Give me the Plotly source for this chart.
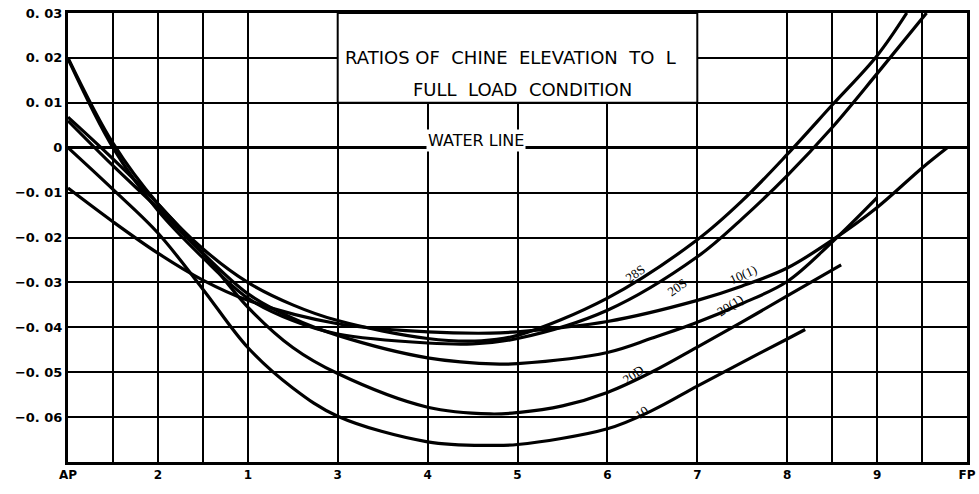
import plotly.graph_objects as go

# ---- data: stations (AP = 0 ... FP = 10) and ratio of chine elevation to L ----
st_28S = [0, 0.5, 1, 1.5, 2, 2.5, 3, 4, 4.6, 5, 6, 7, 7.5, 8, 8.5, 9, 9.33]
y_28S = [0.020, 0.001, -0.0125, -0.0225, -0.030, -0.035, -0.0385, -0.0425, -0.043, -0.0418,
         -0.0335, -0.0205, -0.0118, -0.0015, 0.0095, 0.0205, 0.030]

st_20S = [0, 0.5, 1, 1.5, 2, 2.5, 3, 4, 4.5, 5, 6, 7, 7.5, 8, 8.5, 9, 9.55]
y_20S = [0.0198, 0.0, -0.014, -0.0245, -0.0335, -0.0385, -0.0415, -0.0435, -0.0437, -0.0425,
         -0.0362, -0.0243, -0.0158, -0.0062, 0.0045, 0.0165, 0.030]

st_10_1 = [0, 0.5, 1, 1.5, 2, 3, 4, 4.7, 5, 6, 7, 7.5, 8, 8.5, 9, 9.5, 9.78]
y_10_1 = [-0.009, -0.0165, -0.0235, -0.0295, -0.034, -0.0392, -0.041, -0.0413, -0.041, -0.0387,
          -0.034, -0.0308, -0.0268, -0.0206, -0.0133, -0.0045, 0.0]

st_20_1 = [0, 0.5, 1, 1.5, 2, 2.5, 3, 4, 4.8, 5, 6, 6.5, 7, 7.5, 8, 8.5, 9]
y_20_1 = [0.006, -0.004, -0.0135, -0.0235, -0.0325, -0.038, -0.0418, -0.0468, -0.0482, -0.0481,
          -0.0456, -0.0424, -0.0389, -0.0347, -0.0298, -0.021, -0.0111]

st_20D = [0, 0.5, 1, 1.5, 2, 2.5, 3, 4, 4.7, 5, 5.5, 6, 6.5, 7, 7.5, 8, 8.6]
y_20D = [0.0068, -0.0025, -0.0125, -0.0235, -0.0355, -0.0445, -0.0503, -0.0578, -0.0593, -0.059,
         -0.0575, -0.0545, -0.0499, -0.0444, -0.0388, -0.033, -0.0261]

st_10 = [0, 0.5, 1, 1.5, 2, 2.5, 3, 4, 4.7, 5, 6, 6.5, 7, 7.5, 8, 8.2]
y_10 = [0.0, -0.0093, -0.019, -0.0315, -0.0445, -0.0535, -0.0598, -0.0655, -0.0663, -0.0661,
        -0.0626, -0.0585, -0.0531, -0.0478, -0.0426, -0.0405]

series = [
    ("28S", st_28S, y_28S),
    ("20S", st_20S, y_20S),
    ("10(1)", st_10_1, y_10_1),
    ("20(1)", st_20_1, y_20_1),
    ("20D", st_20D, y_20D),
    ("10", st_10, y_10),
]

# curve labels: name, station, value, angle
label_names = ["28S", "20S", "10(1)", "20(1)", "20D", "10"]
label_x = [6.31, 6.77, 7.51, 7.36, 6.29, 6.38]
label_y = [-0.0280, -0.0311, -0.0282, -0.0351, -0.0505, -0.0589]
label_angle = [-35, -35, -25, -33, -35, -35]

# axis ticks
x_tickvals = [0, 1, 2, 3, 4, 5, 6, 7, 8, 9, 10]
x_ticktext = ["AP", "2", "1", "3", "4", "5", "6", "7", "8", "9", "FP"]
x_half_grid = [0.5, 1.5, 8.5, 9.5]
y_tickvals = [0.03, 0.02, 0.01, 0.0, -0.01, -0.02, -0.03, -0.04, -0.05, -0.06, -0.07]
y_ticktext = ["0. 03", "0. 02", "0. 01", "0", "\u22120. 01", "\u22120. 02", "\u22120. 03",
              "\u22120. 04", "\u22120. 05", "\u22120. 06", ""]

fig = go.Figure()
for name, xs, ys in series:
    fig.add_trace(go.Scatter(
        x=xs, y=ys, mode="lines", name=name,
        line=dict(color="black", width=3.2, shape="spline", smoothing=1.0),
        hoverinfo="x+y+name", showlegend=False,
    ))

# white title box over the grid (stations 3..7, 0.01..0.03)
fig.add_shape(type="rect", xref="x", yref="y", x0=3, x1=7, y0=0.01, y1=0.03,
              fillcolor="white", line=dict(color="black", width=2), layer="between")

title_font = dict(family="DejaVu Sans", size=18, color="black")
fig.add_annotation(
    x=3.06, y=0.0200, xref="x", yref="y", xanchor="left", yanchor="middle", showarrow=False,
    text="RATIOS OF  CHINE  ELEVATION  TO  L",
    font=title_font,
)
fig.add_annotation(
    x=5.05, y=0.0130, xref="x", yref="y", xanchor="center", yanchor="middle", showarrow=False,
    text="FULL  LOAD  CONDITION",
    font=title_font,
)
fig.add_annotation(
    x=4.54, y=0.0016, xref="x", yref="y", xanchor="center", yanchor="middle", showarrow=False,
    text="WATER LINE", font=dict(family="DejaVu Sans", size=16, color="black"),
    bgcolor="white", borderpad=1,
)

for n, lx, ly, ang in zip(label_names, label_x, label_y, label_angle):
    fig.add_annotation(
        x=lx, y=ly, xref="x", yref="y", showarrow=False, text=n, textangle=ang,
        font=dict(family="Liberation Serif", size=13, color="black"),
    )

fig.update_xaxes(
    range=[0, 10], tickmode="array", tickvals=x_tickvals, ticktext=x_ticktext,
    showgrid=True, gridcolor="black", gridwidth=2, zeroline=False,
    minor=dict(tickmode="array", tickvals=x_half_grid, showgrid=True, gridcolor="black", gridwidth=2),
    showline=True, linecolor="black", linewidth=3, mirror=True, ticks="",
    tickfont=dict(family="DejaVu Sans", size=12, color="black", weight="bold"),
    fixedrange=True, automargin=False,
)
fig.update_yaxes(
    range=[-0.07, 0.03], tickmode="array", tickvals=y_tickvals, ticktext=y_ticktext,
    showgrid=True, gridcolor="black", gridwidth=2,
    zeroline=True, zerolinecolor="black", zerolinewidth=2.5,
    showline=True, linecolor="black", linewidth=3, mirror=True, ticks="",
    tickfont=dict(family="DejaVu Sans", size=13, color="black", weight="bold"),
    fixedrange=True, automargin=False,
)
fig.update_layout(
    width=979, height=494, autosize=False,
    margin=dict(l=68, r=12, t=13, b=32),
    paper_bgcolor="white", plot_bgcolor="white",
)

fig.write_html("out.html")
